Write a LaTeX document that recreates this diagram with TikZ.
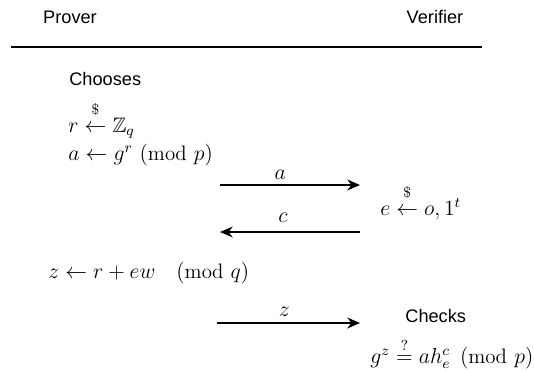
\documentclass[tikz,border=0pt]{standalone}
\usepackage{amsmath,amssymb}
\usepackage{fontspec}
\usepackage{tikz}
\usetikzlibrary{arrows.meta,positioning}
\newfontfamily\labelfont{Liberation Sans}
\newcommand{\sampled}{\mathrel{\overset{\raisebox{3pt}{$\scriptstyle\$$}}{\leftarrow}}}

\begin{document}
\begin{tikzpicture}[
    x=0.55pt, y=-0.55pt,
    party/.style={font=\labelfont\fontsize{10}{12}\selectfont, anchor=base, inner sep=0pt},
    word/.style={font=\labelfont\fontsize{10}{12}\selectfont, anchor=base west, inner sep=0pt},
    eq/.style={font=\fontsize{11.5}{14}\selectfont, anchor=base west, inner sep=0pt},
    msg/.style={-{Stealth[length=7pt,width=6pt]}, line width=0.8pt},
    lbl/.style={font=\fontsize{11.5}{14}\selectfont, inner sep=2pt}
]
\useasboundingbox (0,0) rectangle (534,371);
% header
\node[party] (prover) at (70,23) {Prover};
\node[party] (verifier) at (435,23) {Verifier};
\coordinate (ruleL) at (11,47);
\coordinate (ruleR) at (482,47);
\draw[line width=0.8pt] (ruleL) -- (ruleR);
% prover commits
\node[word] (choose) at (69,85) {Chooses};
\node[eq] (pickr) at (68,132) {$r \sampled \mathbb{Z}_q$};
\node[eq] (commit) at (68,160) {$a \leftarrow g^r\ (\mathrm{mod}\mkern6mu p)$};
% verifier challenge
\node[eq] (pickc) at (380,215) {$e \sampled o, 1^t$};
% prover response
\node[eq] (resp) at (48,278) {$z \leftarrow r + ew \quad (\mathrm{mod}\mkern6mu q)$};
% verifier check
\node[word] (check) at (405,322) {Checks};
\node[eq] (verify) at (370,363) {$g^z \stackrel{?}{=} a h_e^c\;\, (\mathrm{mod}\mkern6mu p)$};
% messages
\coordinate (aL) at (220,185);
\coordinate (aR) at (360,185);
\coordinate (cL) at (220,232);
\coordinate (cR) at (360,232);
\coordinate (zL) at (217,323);
\coordinate (zR) at (360,323);
\draw[msg] (aL) -- node[lbl, above=0.5pt, pos=.43] {$a$} (aR);
\draw[msg] (cR) -- node[lbl, above=3pt, pos=.55] {$c$} (cL);
\draw[msg] (zL) -- node[lbl, above=1pt, pos=.47] {$z$} (zR);
\end{tikzpicture}
\end{document}
